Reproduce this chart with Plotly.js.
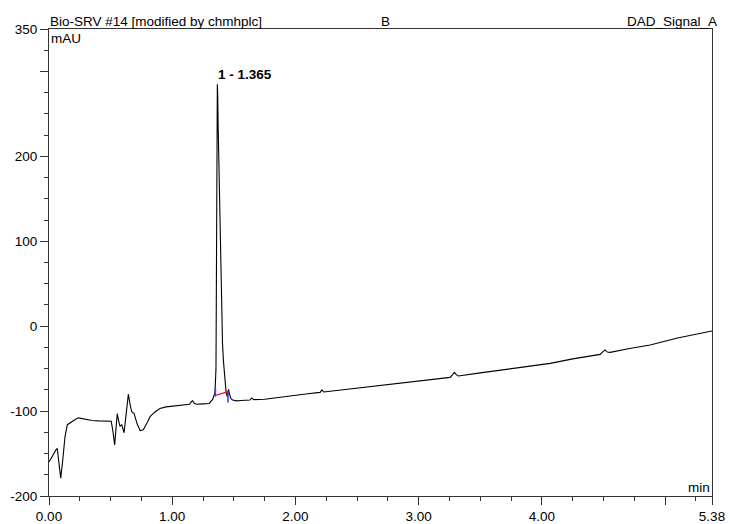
<!DOCTYPE html>
<html>
<head>
<meta charset="utf-8">
<script src="https://cdn.plot.ly/plotly-3.0.1.min.js"></script>
<style>html,body{margin:0;padding:0;background:#fff;}#chart{width:730px;height:524px;}</style>
</head>
<body>
<div id="chart"></div>
<script>
// Retention time (min)
const timeMin = [0.000,0.030,0.055,0.067,0.080,0.095,0.110,0.130,0.149,0.170,0.200,0.238,0.270,0.306,0.350,0.400,0.468,0.505,0.520,0.533,0.545,0.554,0.566,0.576,0.590,0.609,0.625,0.644,0.658,0.671,0.690,0.715,0.740,0.765,0.795,0.820,0.860,0.900,0.950,1.000,1.050,1.100,1.140,1.155,1.166,1.180,1.200,1.250,1.300,1.329,1.347,1.355,1.360,1.363,1.366,1.369,1.372,1.376,1.382,1.388,1.395,1.402,1.408,1.415,1.425,1.437,1.446,1.457,1.465,1.475,1.490,1.520,1.560,1.630,1.645,1.660,1.750,1.850,2.000,2.100,2.200,2.215,2.230,2.350,2.520,2.700,2.849,3.011,3.150,3.255,3.275,3.290,3.305,3.322,3.500,3.661,3.850,4.067,4.250,4.472,4.495,4.513,4.530,4.554,4.700,4.878,5.100,5.250,5.380];
// Detector signal (mAU)
const signalMAU = [-160,-152,-146,-144,-160,-179,-160,-130,-116,-113.5,-111,-108,-109,-110.5,-111,-111.5,-111.7,-112,-125,-140,-118,-103,-112,-118,-116,-125.5,-105,-80,-92,-100.8,-102.7,-115,-123,-122,-114,-106.6,-101,-97,-95,-94,-93,-92.5,-92,-89,-87.8,-91,-92,-91.5,-91,-86,-78,-50,80,220,285,272,240,207,160,117,55,-1,-20,-40,-63,-78,-83,-74.4,-80,-85,-87,-88,-87.5,-87,-84.5,-86.5,-86,-84,-81,-79.5,-78,-75,-77.5,-75.5,-72.5,-69.5,-67.4,-64.2,-62,-60.3,-57,-54.4,-57,-58.7,-55,-51.6,-47.5,-43.8,-38.5,-33.2,-30,-28,-30.5,-30.8,-26.5,-22.2,-14,-9.5,-5.7];

// Integration marks for peak 1
const peakName = "1 - 1.365";
const peakTime = 1.365;
const peakHeight = 285;
const peakStartT = [1.350, 1.350];
const peakStartV = [-83, -72];
const peakEndT = [1.452, 1.452];
const peakEndV = [-76, -90];
const peakBaseT = [1.350, 1.452];
const peakBaseV = [-81.7, -77.1];

// Axis ticks
const xTickVals = [0, 1, 2, 3, 4, 5, 5.38];
const xTickText = ["0.00", "1.00", "2.00", "3.00", "4.00", "", "5.38"];
const yTickVals = [-200, -100, 0, 100, 200, 300, 350];
const yTickText = ["-200", "-100", "0", "100", "200", "", "350"];

const FONT = "Liberation Sans, Arial, sans-serif";
const FS = 13.5;

const traces = [
  {x: timeMin, y: signalMAU, type: "scatter", mode: "lines", line: {color: "#000", width: 1.1}, hoverinfo: "skip"},
  {x: peakBaseT, y: peakBaseV, type: "scatter", mode: "lines", line: {color: "#ff0000", width: 1.2}, hoverinfo: "skip"},
  {x: peakStartT, y: peakStartV, type: "scatter", mode: "lines", line: {color: "#3a3aff", width: 1.6}, hoverinfo: "skip"},
  {x: peakEndT, y: peakEndV, type: "scatter", mode: "lines", line: {color: "#3a3aff", width: 1.6}, hoverinfo: "skip"}
];

const layout = {
  width: 730, height: 524,
  margin: {l: 49, r: 18, t: 29, b: 28, pad: 0},
  paper_bgcolor: "#fff", plot_bgcolor: "#fff",
  showlegend: false,
  font: {family: FONT, size: FS, color: "#000"},
  xaxis: {
    range: [0, 5.38], showgrid: false, zeroline: false,
    showline: true, mirror: true, linecolor: "#333", linewidth: 1,
    tickmode: "array", tickvals: xTickVals, ticktext: xTickText,
    ticks: "outside", ticklen: 8, tickcolor: "#333", tickwidth: 1,
    tickfont: {family: FONT, size: FS, color: "#000"},
    minor: {tickmode: "linear", tick0: 0, dtick: 0.25, ticks: "outside", ticklen: 4, tickcolor: "#333", showgrid: false}
  },
  yaxis: {
    range: [-200, 350], showgrid: false, zeroline: false,
    showline: true, mirror: true, linecolor: "#333", linewidth: 1,
    tickmode: "array", tickvals: yTickVals, ticktext: yTickText,
    ticks: "outside", ticklen: 8, tickcolor: "#333", tickwidth: 1,
    tickfont: {family: FONT, size: FS, color: "#000"},
    minor: {tickmode: "linear", tick0: 0, dtick: 25, ticks: "outside", ticklen: 4, tickcolor: "#333", showgrid: false}
  },
  annotations: [
    {xref: "paper", yref: "paper", x: 0, y: 1, xanchor: "left", yanchor: "bottom", text: "Bio-SRV #14 [modified by chmhplc]", showarrow: false, font: {family: FONT, size: FS}, borderpad: 0, yshift: -1},
    {xref: "paper", yref: "paper", x: 0.507, y: 1, xanchor: "center", yanchor: "bottom", text: "B", showarrow: false, font: {family: FONT, size: FS}, borderpad: 0, yshift: -1},
    {xref: "paper", yref: "paper", x: 1, y: 1, xanchor: "right", yanchor: "bottom", text: "DAD_Signal_A", showarrow: false, font: {family: FONT, size: FS}, borderpad: 0, xshift: 6, yshift: -1},
    {xref: "paper", yref: "paper", x: 0, y: 1, xanchor: "left", yanchor: "top", text: "mAU", showarrow: false, font: {family: FONT, size: FS}, borderpad: 0, xshift: 1, yshift: -1},
    {xref: "paper", yref: "paper", x: 1, y: 0, xanchor: "right", yanchor: "bottom", text: "min", showarrow: false, font: {family: FONT, size: FS}, borderpad: 0, xshift: -1, yshift: 0},
    {xref: "x", yref: "y", x: peakTime, y: peakHeight, xanchor: "left", yanchor: "bottom", text: "<b>" + peakName + "</b>", showarrow: false, font: {family: FONT, size: 13.5}, borderpad: 0, yshift: 1}
  ]
};

Plotly.newPlot("chart", traces, layout, {displayModeBar: false, staticPlot: true});
</script>
</body>
</html>
